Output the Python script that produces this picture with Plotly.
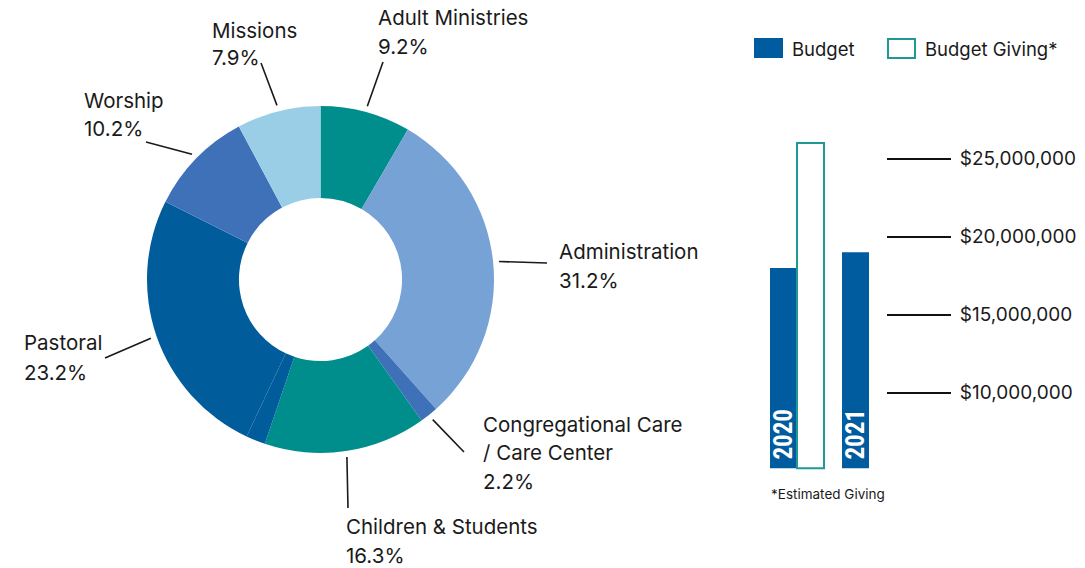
import math
import plotly.graph_objects as go

W, H = 1085, 568

# ---------------- data ----------------
# Donut: slice shares as drawn (clockwise from 12 o'clock) and printed percentages
slice_names = ["Adult Ministries", "Administration", "Congregational Care / Care Center",
               "Children & Students", "Other", "Pastoral", "Worship", "Missions"]
slice_values = [8.4, 30.0, 1.7, 15.1, 1.8, 25.4, 9.8, 7.8]
printed_pcts = [9.2, 31.2, 2.2, 16.3, None, 23.2, 10.2, 7.9]
label_lines = [["Adult Ministries"], ["Administration"], ["Congregational Care", "/ Care Center"],
               ["Children & Students"], None, ["Pastoral"], ["Worship"], ["Missions"]]

# Bars
years = ["2020", "2021"]
series_names = ["Budget", "Budget Giving*"]
budget = [18.0e6, 19.0e6]
budget_giving = [26.0e6, None]
bar_base = 5.15e6
tick_values = [10e6, 15e6, 20e6, 25e6]
footnote = "*Estimated Giving"

# ---------------- styling ----------------
FONT = "Inter, 'Noto Sans', sans-serif"
TXT = "#1a1a1a"
slice_colors = ["#008E8C", "#76A2D6", "#3F71B9", "#008E8C", "#015C9C", "#015C9C", "#3F71B9", "#9ACEE7"]
BUDGET_C = "#005C9E"
GIVING_C = "#1E9A96"

def px(x):
    return x / W

def py(y):
    return 1 - y / H

# pie placement (pixels)
pie_x = (147, 494)
pie_y = (106, 453)
cx = (pie_x[0] + pie_x[1]) / 2
cy = (pie_y[0] + pie_y[1]) / 2
r_out = min(pie_x[1] - pie_x[0], pie_y[1] - pie_y[0]) / 2
r_lead = r_out + 6

# label layout per slice: (text left x, first line centre y, line step, leader end)
label_layout = [
    (376, 18, 28, (383, 62)),
    (557, 251.5, 29, (547, 263)),
    (481, 424.5, 28.3, (464, 452)),
    (344, 526.5, 29, (348, 508)),
    None,
    (22, 342.5, 30, (105, 358)),
    (82, 100, 28, (146, 142)),
    (210, 30, 27, (261, 63)),
]

fig = go.Figure()

fig.add_trace(go.Pie(
    labels=slice_names, values=slice_values, sort=False, direction="clockwise",
    hole=0.47, textinfo="none", marker=dict(colors=slice_colors, line=dict(width=0)),
    domain=dict(x=[px(pie_x[0]), px(pie_x[1])], y=[py(pie_y[1]), py(pie_y[0])]),
    showlegend=False, hoverinfo="label+percent",
))

fig.add_trace(go.Bar(
    name=series_names[0], x=years, y=[v - bar_base for v in budget], base=bar_base,
    marker=dict(color=BUDGET_C, line=dict(width=0)),
    text=["\u00a0" + y for y in years], textposition="inside", insidetextanchor="start", textangle=-90,
    textfont=dict(family="'Liberation Sans Narrow', 'Roboto Condensed', 'DejaVu Sans Condensed', sans-serif",
                  size=25, color="white", weight="bold"),
    showlegend=False,
))
fig.add_trace(go.Bar(
    name=series_names[1], x=years,
    y=[(v - bar_base) if v is not None else None for v in budget_giving], base=bar_base,
    marker=dict(color="white", line=dict(color=GIVING_C, width=2)),
    showlegend=False,
))

shapes = []
annotations = []

# leader lines + labels
total = sum(slice_values)
cum = 0.0
for i, v in enumerate(slice_values):
    mid = (cum + v / 2) / total * 2 * math.pi
    cum += v
    lay = label_layout[i]
    if lay is None:
        continue
    tx, ty, step, (ex, ey) = lay
    sx = cx + r_lead * math.sin(mid)
    sy = cy - r_lead * math.cos(mid)
    shapes.append(dict(type="line", xref="paper", yref="paper",
                       x0=px(sx), y0=py(sy), x1=px(ex), y1=py(ey),
                       line=dict(color=TXT, width=1.6)))
    lines = label_lines[i] + [f"{printed_pcts[i]:.1f}%"]
    for k, t in enumerate(lines):
        annotations.append(dict(text=t, x=px(tx), y=py(ty + k * step), xref="paper", yref="paper",
                                xanchor="left", yanchor="middle", showarrow=False,
                                font=dict(family=FONT, size=20.5, color=TXT)))

# custom legend
shapes.append(dict(type="rect", xref="paper", yref="paper", x0=px(754), x1=px(783),
                   y0=py(58), y1=py(38), fillcolor=BUDGET_C, line=dict(width=0)))
shapes.append(dict(type="rect", xref="paper", yref="paper", x0=px(888), x1=px(915),
                   y0=py(58), y1=py(39), fillcolor="white", line=dict(color=GIVING_C, width=2)))
annotations.append(dict(text=series_names[0], x=px(790), y=py(48.5), xref="paper", yref="paper",
                        xanchor="left", yanchor="middle", showarrow=False,
                        font=dict(family=FONT, size=18.5, color=TXT)))
annotations.append(dict(text=series_names[1], x=px(923), y=py(48.5), xref="paper", yref="paper",
                        xanchor="left", yanchor="middle", showarrow=False,
                        font=dict(family=FONT, size=18.5, color=TXT)))
annotations.append(dict(text=footnote, x=px(769), y=py(494), xref="paper", yref="paper",
                        xanchor="left", yanchor="middle", showarrow=False,
                        font=dict(family=FONT, size=13.5, color=TXT)))

fig.update_layout(
    width=W, height=H, margin=dict(l=0, r=0, t=0, b=0),
    paper_bgcolor="white", plot_bgcolor="white",
    barmode="group", bargap=0.25, bargroupgap=0,
    uniformtext=dict(minsize=25, mode="show"),
    showlegend=False,
    xaxis=dict(domain=[px(761), px(886)], range=[-0.5, 1.236], type="category", visible=False),
    yaxis=dict(domain=[py(470.7), py(127.5)], range=[5e6, 27e6], side="right", anchor="x",
               tickvals=tick_values, ticktext=[f"${v:,.0f}" for v in tick_values],
               ticks="outside", ticklen=64, tickwidth=2, tickcolor="#111111",
               ticklabelstandoff=5, showgrid=False, zeroline=False, showline=False,
               tickfont=dict(family=FONT, size=19, color=TXT)),
    shapes=shapes, annotations=annotations,
    font=dict(family=FONT, color=TXT),
)

fig.write_html("out.html", config={"displayModeBar": False},
               post_script="document.body.style.margin='0px';document.body.style.overflow='hidden';")
